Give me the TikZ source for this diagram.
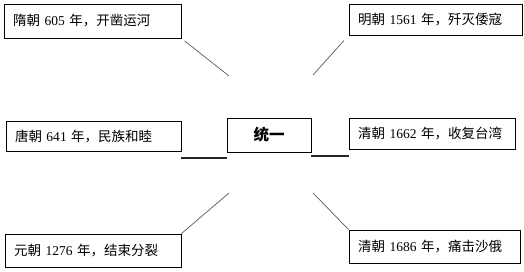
\documentclass[tikz,border=0pt]{standalone}
\usepackage{fontspec}
\setmainfont{Liberation Serif}
\newfontfamily\cjk{Noto Sans CJK SC}
\begin{document}
\begin{tikzpicture}[
  x=1pt, y=1pt,
  tyev/.style = {draw, line width=0.8pt, align=left, inner xsep=9pt, inner ysep=0pt,
    font=\cjk\fontsize{13.5}{15}\selectfont},
  tymid/.style = {draw, line width=0.8pt, minimum width=84pt, minimum height=34pt,
    inner sep=0pt, font=\cjk\bfseries\fontsize{15.5}{17}\selectfont},
  tylink/.style = {draw=black!65, line width=0.7pt},
  tyblank/.style = {draw=black!85, line width=2pt}
]
  \useasboundingbox (0,0) rectangle (524,271);
  % 中心
  \node[tymid] (tongyi) at (269,136) {统一};
  % 六个事件
  \node[tyev, text width=159pt, minimum height=34pt] (sui) at (92.5,250)
    {隋朝 {\rmfamily 605} 年，开凿运河};
  \node[tyev, text width=155pt, minimum height=31pt] (ming) at (435.5,251.5)
    {明朝 {\rmfamily 1561} 年，歼灭倭寇};
  \node[tyev, text width=157pt, minimum height=30pt] (tang) at (93.5,135)
    {唐朝 {\rmfamily 641} 年，民族和睦};
  \node[tyev, text width=148pt, minimum height=31pt] (qinga) at (432,137.5)
    {清朝 {\rmfamily 1662} 年，收复台湾};
  \node[tyev, text width=158pt, minimum height=33pt] (yuan) at (93,20.5)
    {元朝 {\rmfamily 1276} 年，结束分裂};
  \node[tyev, text width=153pt, minimum height=33pt] (qingb) at (434.5,24.5)
    {清朝 {\rmfamily 1686} 年，痛击沙俄};
  % 斜线
  \coordinate (ul) at (229,195);
  \coordinate (ur) at (313,196);
  \coordinate (ll) at (229,78);
  \coordinate (lr) at (313,78);
  \draw[tylink, shorten <=4pt] (sui.south east) -- (ul);
  \draw[tylink, shorten <=7pt] (ming.south west) -- (ur);
  \draw[tylink] (yuan.north east) -- (ll);
  \draw[tylink] (qingb.north west) -- (lr);
  % 横线
  \draw[tyblank] ([yshift=-7pt]tang.south east) -- ([yshift=-6pt]tongyi.south west);
  \draw[tyblank] ([yshift=-4pt]tongyi.south east) -- ([yshift=-7pt]qinga.south west);
\end{tikzpicture}
\end{document}
